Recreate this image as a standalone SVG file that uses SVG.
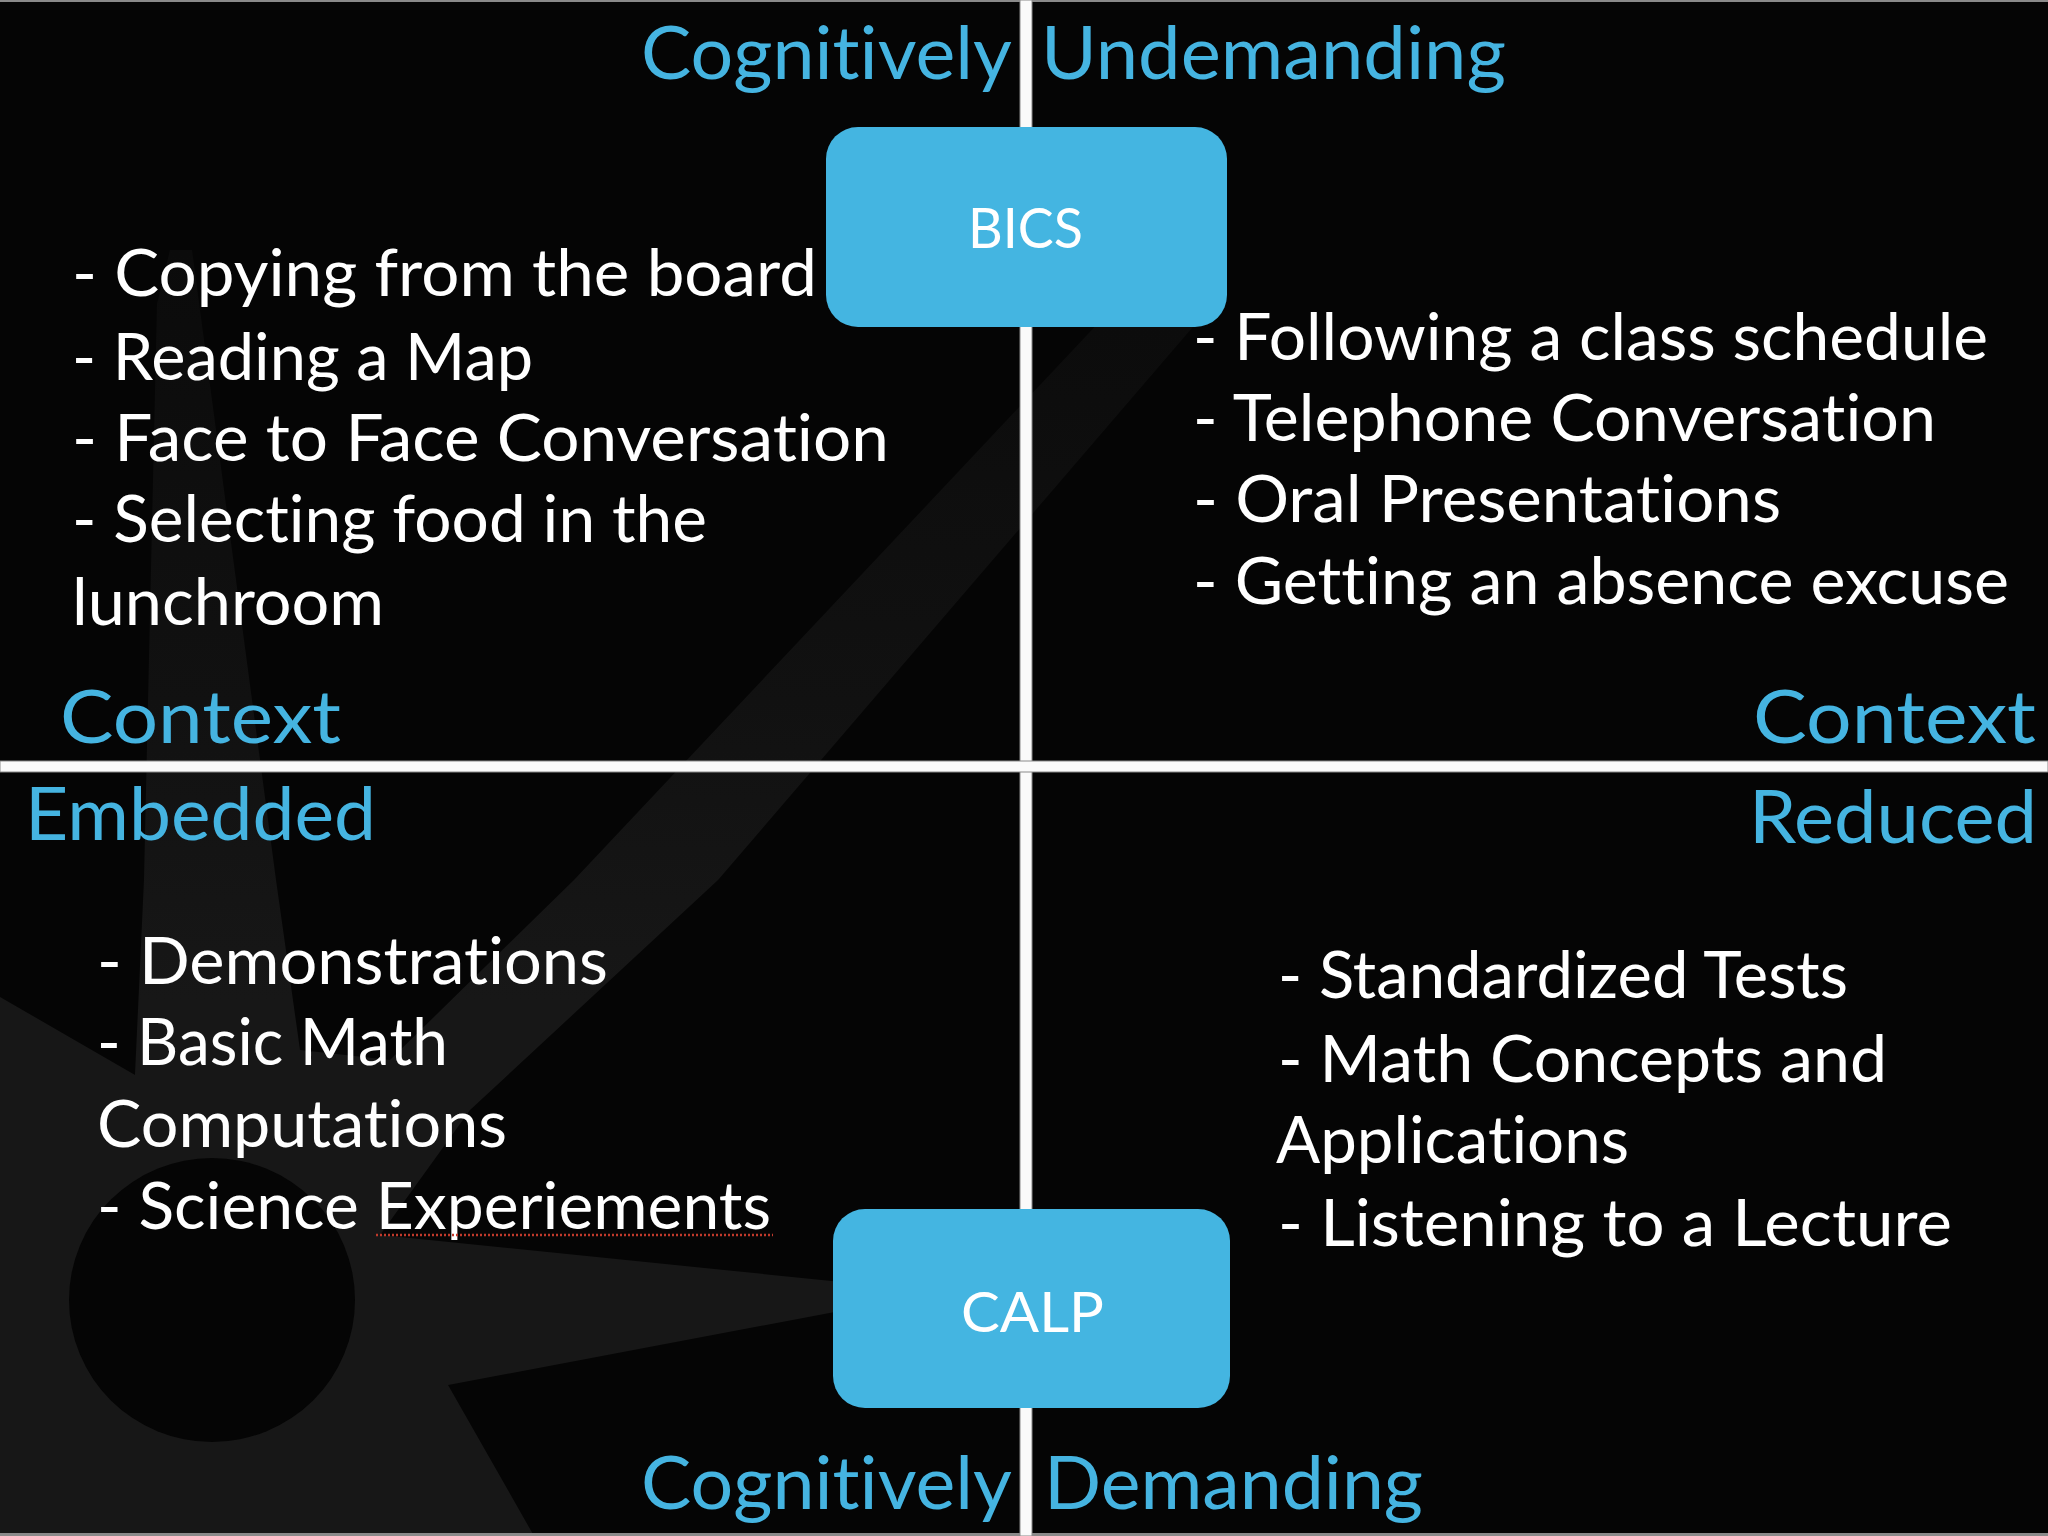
<svg xmlns="http://www.w3.org/2000/svg" width="2048" height="1536" viewBox="0 0 2048 1536">
<defs>
<linearGradient id="logoGrad" gradientUnits="userSpaceOnUse" x1="0" y1="250" x2="0" y2="1000">
<stop offset="0" stop-color="#0b0b0b"/>
<stop offset="0.6" stop-color="#111111"/>
<stop offset="1" stop-color="#171717"/>
</linearGradient>
</defs>
<style>
text{font-variant-ligatures:none;font-feature-settings:"liga" 0,"clig" 0}
.item{font-family:Lato,"Open Sans","Liberation Sans",sans-serif;font-size:65px;fill:#ffffff}
.axis{font-family:Lato,"Open Sans","Liberation Sans",sans-serif;font-size:74px;fill:#45b4e1}
.boxlabel{font-family:Lato,"Open Sans","Liberation Sans",sans-serif;font-size:56px;fill:#ffffff}
.box{fill:#44b5e1}
.divider{fill:#fafafa;stroke:#8a8a8a;stroke-width:1}
.logo{fill:url(#logoGrad)}
</style>
<g id="background">
<rect x="0" y="0" width="2048" height="1536" fill="#050505"/>
<polygon class="logo" points="170,250 192,250 276,880 300,1050 390,1060 574,880 1120,300 1216,300 718,880 470,1110 380,1235 940,1292 448,1385 534,1536 0,1536 0,997 135,1075 144,880 157,304"/>
<ellipse cx="212" cy="1300" rx="143" ry="142" fill="#050505"/>
<rect x="0" y="0" width="2048" height="2" fill="#8a8a8a"/>
<rect x="0" y="1533" width="2048" height="3" fill="#8a8a8a"/>
</g>
<g id="connectors">
<rect class="divider" x="1020" y="0" width="12" height="1536"/>
<rect class="divider" x="0" y="761" width="2048" height="11"/>
</g>
<g id="axis-labels">
<text class="axis" x="641" y="79" textLength="371" lengthAdjust="spacingAndGlyphs">Cognitively</text>
<text class="axis" x="1041" y="79" textLength="465" lengthAdjust="spacingAndGlyphs">Undemanding</text>
<text class="axis" x="60" y="743" textLength="281" lengthAdjust="spacingAndGlyphs">Context</text>
<text class="axis" x="1753" y="743" textLength="283" lengthAdjust="spacingAndGlyphs">Context</text>
<text class="axis" x="25" y="840" textLength="351" lengthAdjust="spacingAndGlyphs">Embedded</text>
<text class="axis" x="1749" y="843" textLength="288" lengthAdjust="spacingAndGlyphs">Reduced</text>
<text class="axis" x="641" y="1509" textLength="371" lengthAdjust="spacingAndGlyphs">Cognitively</text>
<text class="axis" x="1044" y="1509" textLength="379" lengthAdjust="spacingAndGlyphs">Demanding</text>
</g>
<g id="list-top-left">
<text class="item" x="72" y="296" textLength="745" lengthAdjust="spacingAndGlyphs">- Copying from the board</text>
<text class="item" x="72" y="380" textLength="461" lengthAdjust="spacingAndGlyphs">- Reading a Map</text>
<text class="item" x="72" y="461" textLength="817" lengthAdjust="spacingAndGlyphs">- Face to Face Conversation</text>
<text class="item" x="72" y="542" textLength="635" lengthAdjust="spacingAndGlyphs">- Selecting food in the</text>
<text class="item" x="72" y="625" textLength="312" lengthAdjust="spacingAndGlyphs">lunchroom</text>
</g>
<g id="list-top-right">
<text class="item" x="1193" y="360" textLength="795" lengthAdjust="spacingAndGlyphs">- Following a class schedule</text>
<text class="item" x="1193" y="441" textLength="743" lengthAdjust="spacingAndGlyphs">- Telephone Conversation</text>
<text class="item" x="1193" y="522" textLength="588" lengthAdjust="spacingAndGlyphs">- Oral Presentations</text>
<text class="item" x="1193" y="604" textLength="816" lengthAdjust="spacingAndGlyphs">- Getting an absence excuse</text>
</g>
<g id="list-bottom-left">
<text class="item" x="97" y="984" textLength="511" lengthAdjust="spacingAndGlyphs">- Demonstrations</text>
<text class="item" x="97" y="1065" textLength="351" lengthAdjust="spacingAndGlyphs">- Basic Math</text>
<text class="item" x="97" y="1147" textLength="410" lengthAdjust="spacingAndGlyphs">Computations</text>
<text class="item" x="97" y="1229" textLength="674" lengthAdjust="spacingAndGlyphs">- Science Experiements</text>
<line x1="376" y1="1235" x2="773" y2="1235" stroke="#c0392b" stroke-width="2.5" stroke-dasharray="2 2"/>
</g>
<g id="list-bottom-right">
<text class="item" x="1278" y="998" textLength="570" lengthAdjust="spacingAndGlyphs">- Standardized Tests</text>
<text class="item" x="1278" y="1082" textLength="609" lengthAdjust="spacingAndGlyphs">- Math Concepts and</text>
<text class="item" x="1276" y="1163" textLength="353" lengthAdjust="spacingAndGlyphs">Applications</text>
<text class="item" x="1278" y="1246" textLength="674" lengthAdjust="spacingAndGlyphs">- Listening to a Lecture</text>
</g>
<g id="node-bics">
<rect class="box" x="826" y="127" width="401" height="200" rx="32"/>
<text class="boxlabel" x="968" y="248" textLength="115" lengthAdjust="spacingAndGlyphs">BICS</text>
</g>
<g id="node-calp">
<rect class="box" x="833" y="1209" width="397" height="199" rx="32"/>
<text class="boxlabel" x="961" y="1332" textLength="143" lengthAdjust="spacingAndGlyphs">CALP</text>
</g>
</svg>
